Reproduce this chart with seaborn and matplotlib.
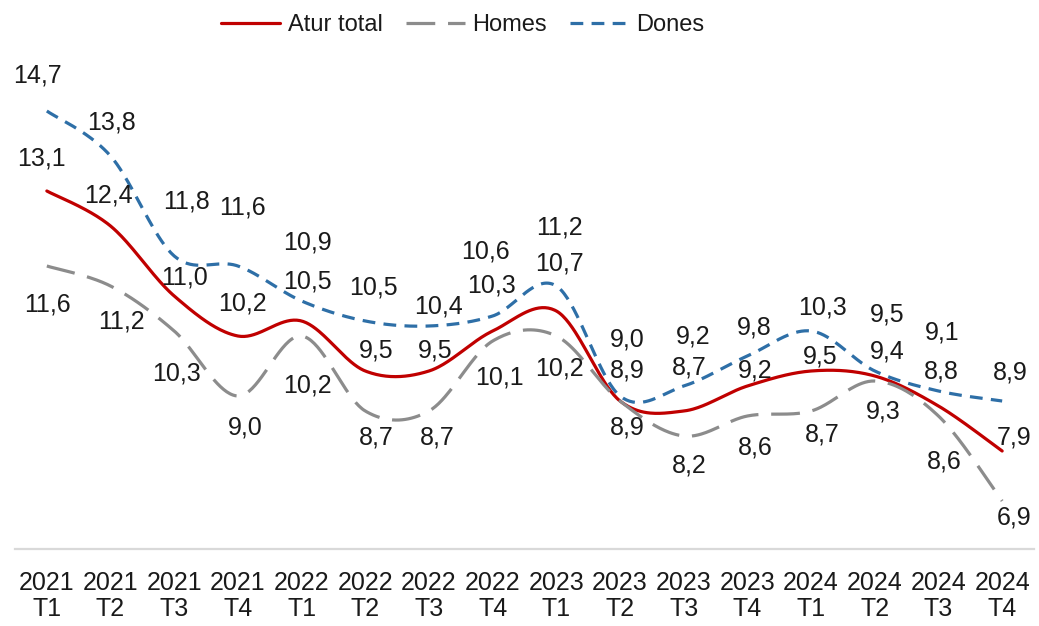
import numpy as np
import pandas as pd
import matplotlib
matplotlib.use('Agg')
import matplotlib.pyplot as plt
import seaborn as sns

# Data (taxa d'atur, %)
quarters = ['2021\nT1', '2021\nT2', '2021\nT3', '2021\nT4',
            '2022\nT1', '2022\nT2', '2022\nT3', '2022\nT4',
            '2023\nT1', '2023\nT2', '2023\nT3', '2023\nT4',
            '2024\nT1', '2024\nT2', '2024\nT3', '2024\nT4']
atur_total = [13.1, 12.4, 11.0, 10.2, 10.5, 9.5, 9.5, 10.3, 10.7, 8.9, 8.7, 9.2, 9.5, 9.4, 8.8, 7.9]
homes = [11.6, 11.2, 10.3, 9.0, 10.2, 8.7, 8.7, 10.1, 10.2, 8.9, 8.2, 8.6, 8.7, 9.3, 8.6, 6.9]
dones = [14.7, 13.8, 11.8, 11.6, 10.9, 10.5, 10.4, 10.6, 11.2, 9.0, 9.2, 9.8, 10.3, 9.5, 9.1, 8.9]

# Label offsets in pixels (dx right, dy down) relative to each point
dones_off = [(-9, -35), (1, -34), (12, -55), (5, -59), (6, -59), (8, -34), (10, -20), (-7, -65),
             (3, -59), (7, -57), (9, -50), (7, -29), (11, -24), (12, -57), (4, -59), (8, -29)]
atur_off = [(-5, -33), (-2, -31), (10, -19), (5, -33), (6, -40), (11, -21), (6, -21), (-1, -46),
            (3, -48), (7, -31), (6, -44), (8, -16), (9, -15), (12, -25), (3, -34), (12, -14)]
homes_off = [(1, 38), (11, 35), (2, 42), (7, 31), (6, 49), (11, 26), (8, 26), (7, 36),
             (3, 32), (7, 26), (6, 29), (8, 31), (11, 23), (8, 31), (6, 45), (12, 16)]


def smooth_curve(values, n=40):
    # Excel-like smoothed line: cubic Bezier between points
    y = np.asarray(values, dtype=float)
    x = np.arange(len(y), dtype=float)
    xs, ys = [], []
    last = len(y) - 1
    for i in range(last):
        p0, p3 = max(i - 1, 0), min(i + 2, last)
        cx1 = x[i] + (x[i + 1] - x[p0]) / 6
        cy1 = y[i] + (y[i + 1] - y[p0]) / 6
        cx2 = x[i + 1] - (x[p3] - x[i]) / 6
        cy2 = y[i + 1] - (y[p3] - y[i]) / 6
        t = np.linspace(0, 1, n, endpoint=(i == last - 1))
        a, b, c, d = (1 - t) ** 3, 3 * (1 - t) ** 2 * t, 3 * (1 - t) * t ** 2, t ** 3
        xs.append(a * x[i] + b * cx1 + c * cx2 + d * x[i + 1])
        ys.append(a * y[i] + b * cy1 + c * cy2 + d * y[i + 1])
    return np.concatenate(xs), np.concatenate(ys)


sns.set_style('white')
plt.rcParams['font.family'] = ['Liberation Sans', 'DejaVu Sans']
text_color = '#1a1a1a'

fig = plt.figure(figsize=(10.39, 6.26), dpi=100)
ax = fig.add_axes([15 / 1039, 1 - 549 / 626, (1034 - 15) / 1039, (549 - 46) / 626])

series = [
    ('Atur total', atur_total, '#C00000', '-', atur_off),
    ('Homes', homes, '#8C8C8C', (0, (9, 4)), homes_off),
    ('Dones', dones, '#2E6FA7', (0, (4, 2.6)), dones_off),
]

for name, vals, color, ls, offs in series:
    sx, sy = smooth_curve(vals)
    sns.lineplot(x=sx, y=sy, sort=False, estimator=None, color=color,
                 linewidth=2.3, linestyle=ls, label=name, ax=ax)

# data labels drawn after lines
for name, vals, color, ls, offs in series:
    for i, (v, (dx, dy)) in enumerate(zip(vals, offs)):
        ax.annotate(f'{v:.1f}'.replace('.', ','), xy=(i, v), xytext=(dx, -dy),
                    textcoords='offset pixels', ha='center', va='center',
                    fontsize=18, color=text_color)

ax.set_xlim(-0.5, 15.5)
ax.set_ylim(5.94, 16)
ax.set_xticks(range(len(quarters)))
ax.set_xticklabels(quarters, fontsize=18, color=text_color, linespacing=1.1)
ax.set_yticks([])
ax.tick_params(axis='x', length=0, pad=16)
for side in ['left', 'right', 'top']:
    ax.spines[side].set_visible(False)
ax.spines['bottom'].set_color('#d9d9d9')
ax.spines['bottom'].set_linewidth(1.6)
ax.set_xlabel('')
ax.set_ylabel('')

ax.legend(loc='center', bbox_to_anchor=(463 / 1039, 1 - 25 / 626),
          bbox_transform=fig.transFigure, ncol=3, frameon=False,
          fontsize=17, handlelength=2.5, handletextpad=0.3,
          columnspacing=1.0, labelcolor=text_color)

fig.savefig('out.png', dpi=100)
